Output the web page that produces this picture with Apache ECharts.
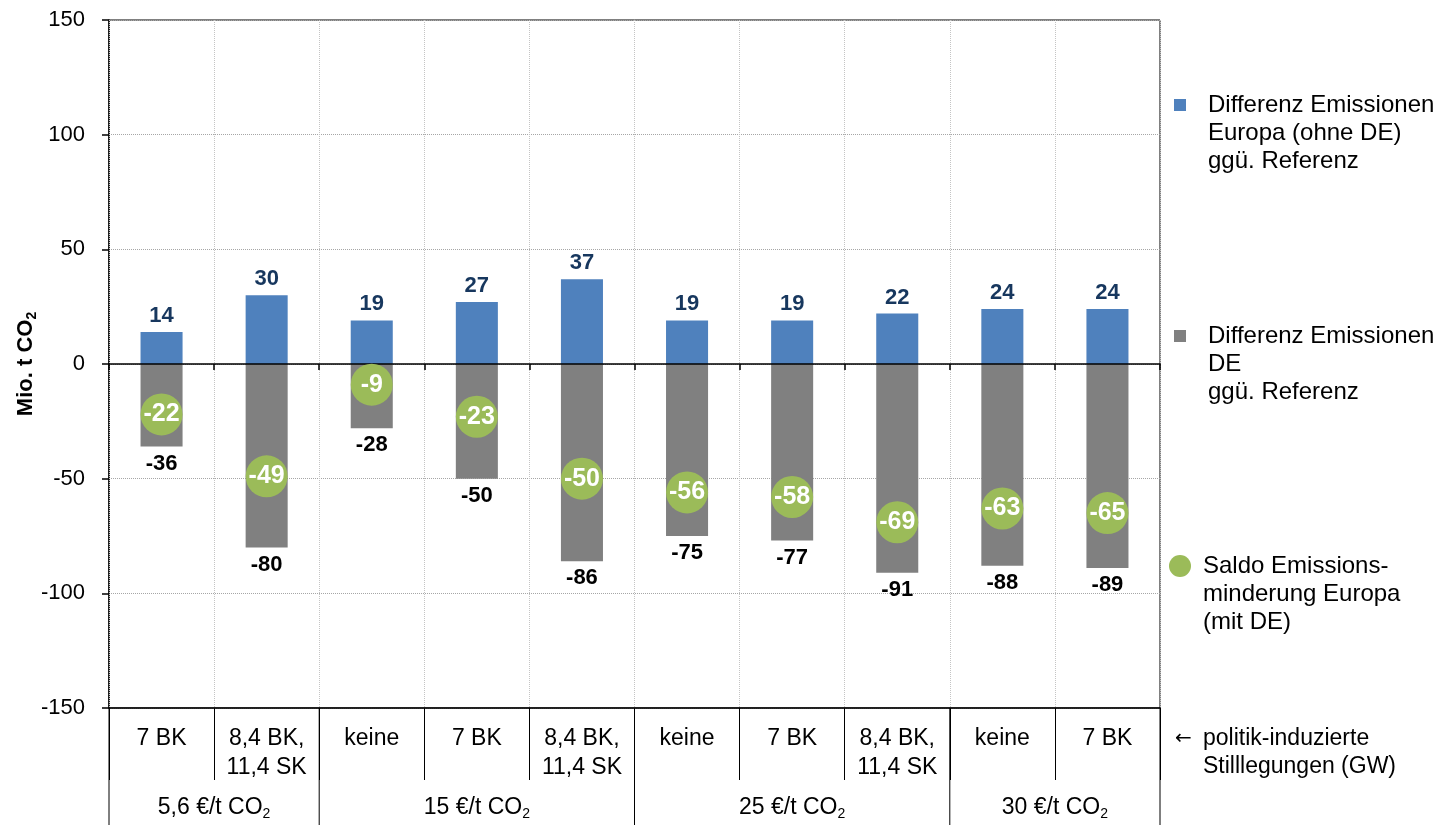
<!DOCTYPE html>
<html>
<head>
<meta charset="utf-8">
<script src="https://cdn.jsdelivr.net/npm/echarts@6/dist/echarts.min.js"></script>
<style>
  html, body { margin: 0; padding: 0; background: #ffffff; }
  #chart { width: 1446px; height: 825px; }
</style>
</head>
<body>
<div id="chart"></div>
<script>
// Policy-induced shutdowns (GW) per scenario
const shutdowns = ['7 BK', '8,4 BK,\n11,4 SK', 'keine', '7 BK', '8,4 BK,\n11,4 SK',
                   'keine', '7 BK', '8,4 BK,\n11,4 SK', 'keine', '7 BK'];
// CO2 price groups and how many scenarios belong to each
const priceGroups = ['5,6', '15', '25', '30'];
const groupSizes = [2, 3, 3, 2];
// Emission differences vs. reference, Mio. t CO2
const europeDiff = [14, 30, 19, 27, 37, 19, 19, 22, 24, 24];
const germanyDiff = [-36, -80, -28, -50, -86, -75, -77, -91, -88, -89];
const balance = [-22, -49, -9, -23, -50, -56, -58, -69, -63, -65];
// Value axis
const yMin = -150, yMax = 150, yStep = 50;

const FONT = '"Liberation Sans", Arial, sans-serif';
const nameEurope = 'Differenz Emissionen\nEuropa (ohne DE)\nggü. Referenz';
const nameGermany = 'Differenz Emissionen\nDE\nggü. Referenz';
const nameBalance = 'Saldo Emissions-\nminderung Europa\n(mit DE)';

const co2Rich = {
  t: { fontSize: 23, fontFamily: FONT, color: '#000' },
  s: { fontSize: 14, fontFamily: FONT, color: '#000', padding: [13, 0, 0, 0] }
};

// One legend block per series; two blank lines in front keep the icon level with the first line
function legendBlock(name, iconCenterY, icon, size, padLeft) {
  return {
    data: [{ name: name, icon: icon }],
    formatter: n => '\n\n' + n,
    left: 1180 - size / 2,
    top: iconCenterY - 70,
    orient: 'vertical',
    padding: 0,
    selectedMode: false,
    itemWidth: size,
    itemHeight: size,
    textStyle: {
      fontFamily: FONT, fontSize: 24, lineHeight: 28, color: '#000',
      padding: [0, 0, 0, padLeft]
    }
  };
}

const chart = echarts.init(document.getElementById('chart'));

const option = {
  animation: false,
  backgroundColor: '#ffffff',
  textStyle: { fontFamily: FONT },
  grid: {
    left: 109, right: 286, top: 20, bottom: 117,
    outerBoundsMode: 'none',
    containLabel: false,
    show: true, borderColor: '#000', borderWidth: 1, backgroundColor: 'transparent'
  },
  legend: [
    legendBlock(nameEurope, 105, 'rect', 12, 17),
    legendBlock(nameGermany, 336, 'rect', 12, 17),
    legendBlock(nameBalance, 566, 'circle', 22, 7)
  ],
  xAxis: [
    {
      // zero line with boundary ticks and vertical grid
      type: 'category',
      data: shutdowns,
      z: 3,
      axisLine: { onZero: true, lineStyle: { color: '#000', width: 1.5 } },
      axisTick: { show: true, length: 6, inside: false, interval: 0, lineStyle: { color: '#000', width: 1.5 } },
      axisLabel: { show: false },
      splitLine: { show: true, interval: 0, lineStyle: { color: '#c4c4c4', type: 'dotted', width: 1 } }
    },
    {
      // label table below the plot
      type: 'category',
      data: shutdowns,
      position: 'bottom',
      axisLine: { onZero: false, lineStyle: { color: '#000', width: 1.5 } },
      axisTick: { show: true, length: 72, inside: false, interval: 0, lineStyle: { color: '#000', width: 1 } },
      axisLabel: {
        interval: 0, margin: 16, fontSize: 23, lineHeight: 29, color: '#000', fontFamily: FONT
      },
      splitLine: { show: false }
    }
  ],
  yAxis: {
    type: 'value',
    min: yMin, max: yMax, interval: yStep,
    name: '{b|Mio. t CO}{s|2}',
    nameLocation: 'middle',
    nameRotate: 90,
    nameGap: 70,
    nameMoveOverlap: false,
    nameTextStyle: {
      rich: {
        b: { fontSize: 22, fontWeight: 'bold', fontFamily: FONT, color: '#000' },
        s: { fontSize: 14, fontWeight: 'bold', fontFamily: FONT, color: '#000', padding: [12, 0, 0, 0] }
      }
    },
    axisLine: { show: true, lineStyle: { color: '#000', width: 1.5 } },
    axisTick: { show: true, length: 7, inside: false, lineStyle: { color: '#000', width: 1.5 } },
    axisLabel: { fontSize: 22, color: '#000', margin: 24, fontFamily: FONT },
    splitLine: { show: true, lineStyle: { color: '#a6a6a6', type: 'dotted', width: 1 } }
  },
  series: [
    {
      name: nameEurope,
      type: 'bar',
      data: europeDiff,
      barWidth: '40%',
      barGap: '-100%',
      itemStyle: { color: '#4F81BD' },
      label: {
        show: true, position: 'top', distance: 5,
        fontSize: 22, fontWeight: 'bold', color: '#17375E', fontFamily: FONT
      }
    },
    {
      name: nameGermany,
      type: 'bar',
      data: germanyDiff,
      barWidth: '40%',
      barGap: '-100%',
      itemStyle: { color: '#808080' },
      label: {
        show: true, position: 'bottom', distance: 6,
        fontSize: 22, fontWeight: 'bold', color: '#000', fontFamily: FONT
      }
    },
    {
      name: nameBalance,
      type: 'scatter',
      data: balance,
      symbol: 'circle',
      symbolSize: 42,
      z: 4,
      itemStyle: { color: '#9BBB59', opacity: 1 },
      label: {
        show: true, position: 'inside',
        fontSize: 25, fontWeight: 'bold', color: '#ffffff', fontFamily: FONT,
        formatter: p => String(p.value)
      }
    }
  ]
};

chart.setOption(option);

// Group separators, CO2 price labels and the side note, placed from the axis scale
const c0 = chart.convertToPixel({ xAxisIndex: 0 }, 0);
const c1 = chart.convertToPixel({ xAxisIndex: 0 }, 1);
const band = c1 - c0;
const startX = c0 - band / 2;
const yBottom = chart.convertToPixel({ yAxisIndex: 0 }, yMin);

const elements = [];
let idx = 0;
const boundaries = [0];
groupSizes.forEach(n => { idx += n; boundaries.push(idx); });
boundaries.forEach(b => {
  const x = startX + b * band;
  elements.push({
    type: 'line', silent: true,
    shape: { x1: x, y1: yBottom, x2: x, y2: 825 },
    style: { stroke: '#000', lineWidth: 1 }
  });
});
priceGroups.forEach((p, i) => {
  const mid = startX + (boundaries[i] + boundaries[i + 1]) / 2 * band;
  elements.push({
    type: 'text', silent: true,
    x: mid, y: yBottom + 100,
    style: {
      text: '{t|' + p + ' €/t CO}{s|2}',
      rich: co2Rich,
      align: 'center', verticalAlign: 'middle'
    }
  });
});
const plotRight = startX + shutdowns.length * band;
elements.push({
  type: 'text', silent: true, x: plotRight + 15, y: yBottom + 31,
  style: { text: '←', fontSize: 20, fontFamily: '"DejaVu Sans", sans-serif', fill: '#000', verticalAlign: 'middle' }
});
elements.push({
  type: 'text', silent: true, x: plotRight + 43, y: yBottom + 31,
  style: { text: 'politik-induzierte', fontSize: 23, fontFamily: FONT, fill: '#000', verticalAlign: 'middle' }
});
elements.push({
  type: 'text', silent: true, x: plotRight + 43, y: yBottom + 59,
  style: { text: 'Stilllegungen (GW)', fontSize: 23, fontFamily: FONT, fill: '#000', verticalAlign: 'middle' }
});

chart.setOption({ graphic: elements });
</script>
</body>
</html>
